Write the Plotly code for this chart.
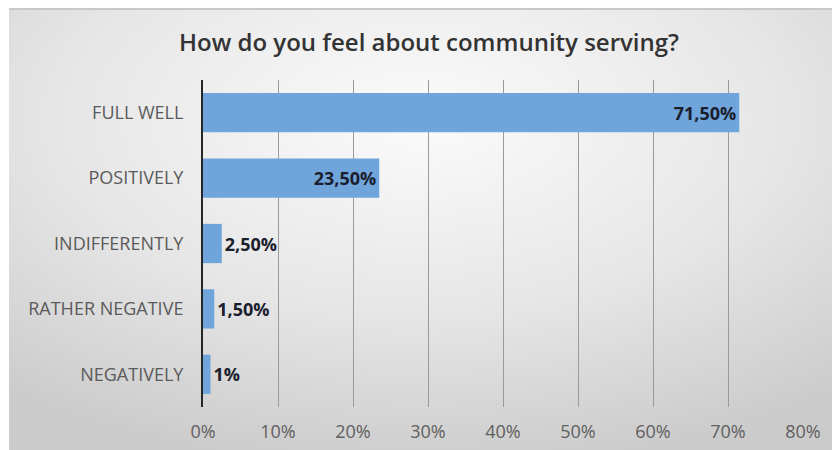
import plotly.graph_objects as go
import urllib.parse

categories = ["FULL WELL", "POSITIVELY", "INDIFFERENTLY", "RATHER NEGATIVE", "NEGATIVELY"]
values = [71.5, 23.5, 2.5, 1.5, 1.0]
value_labels = ["71,50%", "23,50%", "2,50%", "1,50%", "1%"]
tick_values = [0, 10, 20, 30, 40, 50, 60, 70, 80]
tick_labels = ["0%", "10%", "20%", "30%", "40%", "50%", "60%", "70%", "80%"]
title_text = "How do you feel about community serving?"

W, H = 832, 450
L, R, T, B = 203, 29, 80, 43
pw, ph = W - L - R, H - T - B

svg = (
    "<svg xmlns='http://www.w3.org/2000/svg' width='823' height='442'>"
    "<defs><radialGradient id='g' cx='50%' cy='25%' r='80%'>"
    "<stop offset='0%' stop-color='#fbfbfb'/>"
    "<stop offset='55%' stop-color='#e6e6e6'/>"
    "<stop offset='100%' stop-color='#cbcbcb'/>"
    "</radialGradient></defs>"
    "<rect width='823' height='442' fill='url(#g)'/>"
    "<rect x='0' y='0' width='823' height='2' fill='#c8c8c8'/>"
    "</svg>"
)
src = "data:image/svg+xml;charset=utf-8," + urllib.parse.quote(svg)

FONT = "Open Sans, Lato, sans-serif"
positions = ["inside" if v > 10 else "outside" for v in values]

fig = go.Figure(go.Bar(
    y=categories, x=values, orientation="h",
    marker=dict(color="#6fa5da", line=dict(width=0)),
    width=0.6,
    text=value_labels, textposition=positions,
    insidetextanchor="end",
    textfont=dict(family=FONT, size=18, color="#1b1e2e", weight="bold"),
    cliponaxis=False,
))

fig.update_layout(
    width=W, height=H,
    margin=dict(l=L, r=R, t=T, b=B),
    paper_bgcolor="white", plot_bgcolor="rgba(0,0,0,0)",
    showlegend=False,
    title=dict(text=title_text, x=429 / W, xanchor="center", y=1 - 43 / H, yanchor="middle",
               font=dict(family=FONT, size=24, color="#333333", weight=600)),
    images=[dict(source=src, xref="paper", yref="paper",
                 x=(9 - L) / pw, y=(H - B - 8) / ph, sizex=(W - 9) / pw, sizey=(H - 8) / ph,
                 xanchor="left", yanchor="top", sizing="stretch", layer="below")],
    xaxis=dict(range=[0, 80], tickvals=tick_values, ticktext=tick_labels,
               showgrid=True, gridcolor="#9a9a9a", gridwidth=1, zeroline=False,
               showline=False, ticks="", ticklabelstandoff=12, automargin=False,
               tickfont=dict(family=FONT, size=18, color="#5f5f5f"),
               fixedrange=True),
    yaxis=dict(autorange="reversed", showline=True, linecolor="#262626", linewidth=2,
               showgrid=False, ticks="", ticklabelstandoff=14, automargin=False,
               tickfont=dict(family=FONT, size=18, color="#5a5a5a"),
               fixedrange=True),
    bargap=0.4,
)

fig.write_html("out.html")
